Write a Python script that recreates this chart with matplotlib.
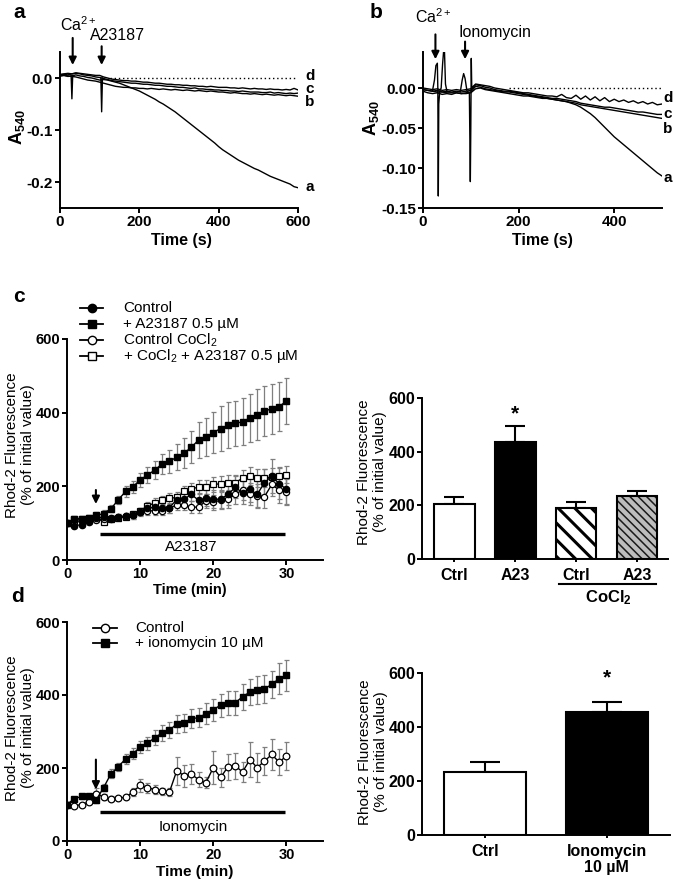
import numpy as np
import matplotlib
matplotlib.use('Agg')
import matplotlib.pyplot as plt

plt.rcParams['font.family'] = ['Liberation Sans', 'DejaVu Sans']
plt.rcParams['mathtext.fontset'] = 'custom'
plt.rcParams['mathtext.rm'] = 'Liberation Sans'
plt.rcParams['mathtext.it'] = 'Liberation Sans:italic'
plt.rcParams['mathtext.bf'] = 'Liberation Sans:bold'
plt.rcParams['hatch.linewidth'] = 1.8

# ---------------- data ----------------
# panel a (A23187), time in s, step 10 s
time_a = np.arange(0, 601, 10)
a_tr_a = [0.004, 0.005, 0.003, 0.004, 0.006, 0.004, 0.003, 0.001, 0.000, -0.002, -0.004,
          -0.003, -0.004, -0.006, -0.008, -0.010, -0.013, -0.016, -0.019, -0.022, -0.025,
          -0.029, -0.033, -0.037, -0.041, -0.046, -0.050, -0.055, -0.060, -0.065, -0.071,
          -0.077, -0.083, -0.089, -0.095, -0.101, -0.107, -0.113, -0.119, -0.125, -0.132,
          -0.138, -0.143, -0.148, -0.153, -0.158, -0.162, -0.166, -0.170, -0.174, -0.177,
          -0.181, -0.185, -0.189, -0.192, -0.195, -0.198, -0.201, -0.204, -0.209, -0.211]
a_tr_b = [0.004, 0.005, 0.004, 0.003, 0.002, 0.000, -0.002, -0.004, -0.005, -0.006, -0.008,
          -0.010, -0.012, -0.014, -0.016, -0.017, -0.018, -0.018, -0.019, -0.019, -0.020,
          -0.020, -0.021, -0.020, -0.021, -0.022, -0.021, -0.022, -0.023, -0.022, -0.023,
          -0.024, -0.023, -0.024, -0.025, -0.024, -0.025, -0.026, -0.025, -0.026, -0.027,
          -0.027, -0.028, -0.029, -0.028, -0.029, -0.030, -0.030, -0.031, -0.030, -0.031,
          -0.032, -0.031, -0.032, -0.033, -0.032, -0.033, -0.034, -0.033, -0.034, -0.035]
a_tr_c = [0.006, 0.007, 0.006, 0.008, 0.009, 0.008, 0.006, 0.005, 0.004, 0.002, 0.001,
          -0.001, -0.003, -0.005, -0.006, -0.007, -0.008, -0.009, -0.010, -0.010, -0.011,
          -0.012, -0.012, -0.013, -0.014, -0.014, -0.015, -0.016, -0.016, -0.017, -0.018,
          -0.018, -0.019, -0.020, -0.019, -0.021, -0.021, -0.022, -0.022, -0.023, -0.023,
          -0.024, -0.024, -0.025, -0.025, -0.026, -0.025, -0.026, -0.027, -0.027, -0.027,
          -0.028, -0.028, -0.027, -0.029, -0.028, -0.029, -0.030, -0.029, -0.030, -0.029]
a_tr_d = [0.007, 0.008, 0.009, 0.008, 0.010, 0.009, 0.008, 0.007, 0.006, 0.005, 0.005,
          0.002, 0.000, -0.002, -0.003, -0.004, -0.005, -0.005, -0.006, -0.006, -0.007,
          -0.008, -0.008, -0.009, -0.010, -0.010, -0.011, -0.012, -0.012, -0.013, -0.013,
          -0.014, -0.014, -0.015, -0.015, -0.016, -0.016, -0.017, -0.016, -0.017, -0.018,
          -0.018, -0.018, -0.019, -0.019, -0.020, -0.019, -0.020, -0.021, -0.020, -0.021,
          -0.021, -0.022, -0.021, -0.022, -0.022, -0.023, -0.022, -0.023, -0.020, -0.023]
a_spike_t = [[28, 30, 32], [103, 105, 107]]
a_spike_v = [[0.005, -0.040, 0.005], [0.000, -0.065, 0.000]]

# panel b (ionomycin), time in s, step 10 s
time_b = np.arange(0, 501, 10)
b_tr_a = [-0.002, -0.003, -0.004, -0.005, -0.005, -0.006, -0.006, -0.006, -0.007, -0.007, -0.006,
          -0.001, 0.000, -0.002, -0.003, -0.004, -0.005, -0.006, -0.007, -0.008, -0.009,
          -0.010, -0.010, -0.011, -0.012, -0.013, -0.013, -0.014, -0.015, -0.016, -0.017,
          -0.019, -0.021, -0.024, -0.028, -0.032, -0.037, -0.043, -0.049, -0.055, -0.061,
          -0.066, -0.071, -0.076, -0.081, -0.086, -0.091, -0.096, -0.101, -0.106, -0.110]
b_tr_b = [-0.004, -0.006, -0.007, -0.006, -0.008, -0.007, -0.008, -0.006, -0.007, -0.006, -0.005,
          0.002, 0.001, -0.001, -0.002, -0.003, -0.004, -0.005, -0.005, -0.006, -0.007,
          -0.008, -0.009, -0.010, -0.011, -0.012, -0.013, -0.014, -0.015, -0.016, -0.017,
          -0.018, -0.019, -0.021, -0.022, -0.023, -0.024, -0.025, -0.026, -0.027, -0.028,
          -0.029, -0.030, -0.031, -0.032, -0.033, -0.034, -0.035, -0.036, -0.037, -0.038]
b_tr_c = [-0.002, -0.003, -0.004, -0.003, -0.005, -0.004, -0.005, -0.004, -0.005, -0.004, -0.003,
          0.004, 0.003, 0.001, 0.000, -0.002, -0.003, -0.004, -0.004, -0.005, -0.006,
          -0.007, -0.008, -0.009, -0.010, -0.011, -0.012, -0.013, -0.013, -0.014, -0.015,
          -0.016, -0.017, -0.019, -0.020, -0.021, -0.022, -0.023, -0.024, -0.024, -0.025,
          -0.026, -0.027, -0.028, -0.029, -0.030, -0.030, -0.031, -0.032, -0.033, -0.033]
b_tr_d = [0.000, -0.001, -0.002, -0.001, -0.003, -0.002, -0.003, -0.002, -0.003, -0.002, -0.001,
          0.005, 0.004, 0.003, 0.002, 0.000, -0.001, -0.002, -0.003, -0.004, -0.005,
          -0.006, -0.006, -0.007, -0.008, -0.009, -0.010, -0.010, -0.011, -0.008, -0.012,
          -0.013, -0.009, -0.014, -0.010, -0.015, -0.011, -0.016, -0.012, -0.017, -0.014,
          -0.017, -0.015, -0.018, -0.016, -0.019, -0.017, -0.020, -0.018, -0.021, -0.020]
b_spike_t = [[20, 24, 27, 30, 31, 32, 33, 35, 38, 41, 43, 45, 47, 50],
             [78, 82, 85, 88, 92, 97, 99, 100, 101, 102, 105]]
b_spike_v = [[-0.003, 0.010, 0.028, 0.031, 0.000, -0.135, -0.020, -0.004, 0.000, 0.030, 0.045, 0.045, 0.005, -0.004],
             [-0.005, 0.010, 0.018, 0.012, -0.004, -0.006, -0.117, -0.050, 0.037, 0.000, 0.002]]

# panel c / d time courses (min)
time_min = np.arange(0, 31)
c_ctrl = [100, 93, 96, 104, 113, 117, 115, 117, 119, 121, 131, 140, 144, 140, 142, 164, 165, 178, 162, 168,
          165, 165, 178, 197, 183, 192, 178, 210, 228, 207, 192]
c_ctrl_err = [4, 6, 6, 6, 7, 7, 8, 8, 9, 10, 10, 12, 12, 13, 14, 15, 16, 18, 20, 22, 24, 26, 28, 30, 32, 34,
              36, 38, 46, 42, 40]
c_a23 = [100, 111, 111, 113, 121, 126, 139, 163, 186, 199, 217, 231, 244, 261, 268, 279, 290, 306, 326, 333,
         346, 357, 366, 371, 375, 386, 395, 405, 410, 416, 432]
c_a23_err = [4, 6, 6, 7, 8, 10, 10, 12, 14, 16, 20, 22, 25, 28, 32, 36, 40, 44, 48, 52, 56, 60, 62, 62, 64, 66,
             68, 68, 68, 66, 62]
c_ctrlco = [100, 104, 107, 108, 108, 112, 112, 117, 119, 121, 130, 133, 134, 133, 140, 150, 150, 143, 144, 160,
            157, 162, 165, 178, 190, 178, 175, 172, 205, 190, 185]
c_ctrlco_err = [4, 5, 5, 6, 6, 7, 7, 8, 8, 9, 10, 11, 12, 12, 13, 14, 15, 16, 17, 18, 20, 22, 24, 26, 28, 30,
                30, 32, 32, 34, 36]
c_coa23 = [100, 112, 112, 114, 116, 103, 110, 114, 118, 124, 132, 147, 155, 162, 167, 170, 186, 193, 198, 198,
           205, 207, 210, 210, 222, 228, 222, 222, 225, 228, 232]
c_coa23_err = [4, 5, 5, 6, 6, 6, 7, 8, 8, 9, 10, 11, 12, 13, 14, 15, 16, 17, 18, 19, 20, 21, 22, 22, 23, 24,
               24, 24, 25, 24, 22]

d_ctrl = [100, 96, 100, 107, 130, 120, 116, 117, 120, 134, 153, 146, 141, 136, 134, 192, 179, 183, 168, 160,
          201, 174, 203, 206, 189, 223, 201, 219, 237, 216, 233]
d_ctrl_err = [3, 4, 4, 5, 15, 8, 6, 5, 5, 12, 18, 14, 12, 10, 10, 38, 30, 28, 20, 15, 45, 25, 35, 35, 28, 48,
              40, 38, 42, 35, 38]
d_iono = [100, 116, 122, 122, 113, 146, 184, 203, 225, 239, 257, 268, 283, 296, 303, 321, 324, 335, 338, 349,
          360, 372, 378, 379, 395, 408, 413, 417, 429, 445, 454]
d_iono_err = [3, 5, 6, 6, 8, 10, 12, 12, 14, 15, 16, 18, 20, 22, 22, 25, 25, 26, 27, 28, 30, 32, 32, 33, 35,
              36, 38, 38, 38, 42, 43]

# bar summaries
c_bar_labels = ['Ctrl', 'A23', 'Ctrl', 'A23']
c_bar_vals = [205, 437, 189, 235]
c_bar_err = [27, 58, 24, 19]
d_bar_labels = ['Ctrl', 'Ionomycin\n10 µM']
d_bar_vals = [235, 454]
d_bar_err = [35, 40]

# ---------------- figure ----------------
W, H = 675, 882
fig = plt.figure(figsize=(W / 100, H / 100), dpi=100)


def add_ax(l, t, r, b):
    return fig.add_axes([l / W, 1 - b / H, (r - l) / W, (b - t) / H])


def style(ax, fs=10):
    for s in ['top', 'right']:
        ax.spines[s].set_visible(False)
    for s in ['left', 'bottom']:
        ax.spines[s].set_linewidth(1.4)
    ax.tick_params(width=1.4, length=3.5, labelsize=fs, pad=1.5, direction='out')
    for lab in ax.get_xticklabels() + ax.get_yticklabels():
        lab.set_fontweight('bold')


arrow_kw = dict(arrowstyle='-|>', color='k', lw=1.5, mutation_scale=11, shrinkA=0, shrinkB=0)

# ---- panel a ----
ax = add_ax(60, 52, 298, 208)
for tr in [a_tr_d, a_tr_c, a_tr_b, a_tr_a]:
    ax.plot(time_a, tr, color='k', lw=1.0)
for st, sv in zip(a_spike_t, a_spike_v):
    ax.plot(st, sv, color='k', lw=1.0)
ax.plot([125, 600], [0, 0], color='k', lw=1.0, ls=(0, (1, 2)))
ax.set_xlim(0, 600)
ax.set_ylim(-0.25, 0.05)
ax.set_xticks([0, 200, 400, 600])
ax.set_yticks([0.0, -0.1, -0.2], labels=['0.0', '-0.1', '-0.2'])
style(ax, 11)
ax.annotate('', xy=(32, 0.025), xytext=(32, 0.077), arrowprops=arrow_kw, annotation_clip=False)
ax.annotate('', xy=(105, 0.025), xytext=(105, 0.061), arrowprops=arrow_kw, annotation_clip=False)
ax.text(45, 0.102, 'Ca$^{2+}$', ha='center', va='center', fontsize=11.5, clip_on=False)
ax.text(146, 0.081, 'A23187', ha='center', va='center', fontsize=11.5, clip_on=False)
for lab, yv in zip(['d', 'c', 'b', 'a'], [0.003, -0.022, -0.047, -0.209]):
    ax.text(618, yv, lab, ha='left', va='center', fontsize=11, fontweight='bold', clip_on=False)

# ---- panel b ----
ax = add_ax(423, 52, 662, 208)
for tr in [b_tr_d, b_tr_c, b_tr_b, b_tr_a]:
    ax.plot(time_b, tr, color='k', lw=1.0)
for st, sv in zip(b_spike_t, b_spike_v):
    ax.plot(st, sv, color='k', lw=1.0)
ax.plot([180, 500], [0, 0], color='k', lw=1.0, ls=(0, (1, 2)))
ax.set_xlim(0, 500)
ax.set_ylim(-0.15, 0.045)
ax.set_xticks([0, 200, 400])
ax.set_yticks([0.0, -0.05, -0.10, -0.15], labels=['0.00', '-0.05', '-0.10', '-0.15'])
style(ax, 11)
ax.annotate('', xy=(26, 0.036), xytext=(26, 0.067), arrowprops=arrow_kw, annotation_clip=False)
ax.annotate('', xy=(88, 0.036), xytext=(88, 0.058), arrowprops=arrow_kw, annotation_clip=False)
ax.text(22, 0.089, 'Ca$^{2+}$', ha='center', va='center', fontsize=11.5, clip_on=False)
ax.text(150, 0.070, 'Ionomycin', ha='center', va='center', fontsize=11.5, clip_on=False)
for lab, yv in zip(['d', 'c', 'b', 'a'], [-0.013, -0.033, -0.051, -0.113]):
    ax.text(503, yv, lab, ha='left', va='center', fontsize=11, fontweight='bold', clip_on=False)

# ---- panel c time course ----
ax = add_ax(67, 339, 323, 560)
eb_kw = dict(fmt='none', ecolor='#7f7f7f', elinewidth=0.9, capsize=1.8, capthick=0.9, zorder=1)
for ys, es in [(c_ctrl, c_ctrl_err), (c_a23, c_a23_err), (c_ctrlco, c_ctrlco_err), (c_coa23, c_coa23_err)]:
    ax.errorbar(time_min, ys, yerr=es, **eb_kw)
ax.plot(time_min, c_coa23, color='k', lw=1.0, marker='s', ms=4.3, mfc='white', mec='k', mew=0.9, zorder=3)
ax.plot(time_min, c_ctrlco, color='k', lw=1.0, marker='o', ms=4.5, mfc='white', mec='k', mew=0.9, zorder=3)
ax.plot(time_min, c_ctrl, color='k', lw=1.0, marker='o', ms=4.5, mfc='k', mec='k', zorder=4)
ax.plot(time_min, c_a23, color='k', lw=1.0, marker='s', ms=4.3, mfc='k', mec='k', zorder=4)
ax.plot([4.5, 29.8], [70, 70], color='k', lw=2.4, solid_capstyle='butt')
ax.text(17, 36, 'A23187', ha='center', va='center', fontsize=11)
ax.annotate('', xy=(3.95, 152), xytext=(3.95, 190), arrowprops=arrow_kw)
ax.set_xlim(0, 35)
ax.set_ylim(0, 600)
ax.set_xticks([0, 10, 20, 30])
ax.set_yticks([0, 200, 400, 600])
style(ax, 10.5)

# ---- panel c bars ----
ax = add_ax(422, 398, 668, 559)
xb = np.arange(len(c_bar_vals))
ax.errorbar(xb, c_bar_vals, yerr=[np.zeros(len(c_bar_err)), c_bar_err], fmt='none', ecolor='k',
            elinewidth=1.5, capsize=7, capthick=1.5, zorder=1)
bw = 0.67
ax.bar(xb[0], c_bar_vals[0], width=bw, color='white', edgecolor='k', lw=1.5, zorder=2)
ax.bar(xb[1], c_bar_vals[1], width=bw, color='black', edgecolor='k', lw=1.5, zorder=2)
plt.rcParams['hatch.linewidth'] = 2.2
ax.bar(xb[2], c_bar_vals[2], width=bw, color='white', edgecolor='k', lw=0, hatch='\\\\', zorder=2)
plt.rcParams['hatch.linewidth'] = 1.1
ax.bar(xb[3], c_bar_vals[3], width=bw, color='#bdbdbd', edgecolor='#1a1a1a', lw=0, hatch='\\\\\\\\', zorder=2)
ax.bar(xb[2:], c_bar_vals[2:], width=bw, fill=False, edgecolor='k', lw=1.5, zorder=3)
ax.text(xb[1], 542, '*', ha='center', va='center', fontsize=15, fontweight='bold')
ax.set_xlim(-0.53, 3.51)
ax.set_ylim(0, 600)
ax.set_yticks([0, 200, 400, 600])
ax.set_xticks(xb, labels=c_bar_labels)
style(ax, 11.5)
ax.tick_params(axis='x', length=2.5, pad=4)

# ---- panel d time course ----
ax = add_ax(67, 622, 323, 841)
ax.errorbar(time_min, d_ctrl, yerr=d_ctrl_err, **eb_kw)
ax.errorbar(time_min, d_iono, yerr=d_iono_err, **eb_kw)
ax.plot(time_min, d_ctrl, color='k', lw=1.0, marker='o', ms=4.8, mfc='white', mec='k', mew=0.9, zorder=3)
ax.plot(time_min, d_iono, color='k', lw=1.0, marker='s', ms=4.3, mfc='k', mec='k', zorder=4)
ax.plot([4.5, 29.8], [80, 80], color='k', lw=2.4, solid_capstyle='butt')
ax.text(17.2, 39, 'Ionomycin', ha='center', va='center', fontsize=11)
ax.annotate('', xy=(3.95, 141), xytext=(3.95, 223), arrowprops=arrow_kw)
ax.set_xlim(0, 35)
ax.set_ylim(0, 600)
ax.set_xticks([0, 10, 20, 30])
ax.set_yticks([0, 200, 400, 600])
style(ax, 10.5)

# ---- panel d bars ----
ax = add_ax(422, 673, 670, 835)
xd = np.arange(len(d_bar_vals))
ax.errorbar(xd, d_bar_vals, yerr=[np.zeros(len(d_bar_err)), d_bar_err], fmt='none', ecolor='k',
            elinewidth=1.5, capsize=11, capthick=1.5, zorder=1)
ax.bar(xd, d_bar_vals, width=0.67, color=['white', 'black'], edgecolor='k', lw=1.5, zorder=2)
ax.text(xd[1], 581, '*', ha='center', va='center', fontsize=15, fontweight='bold')
ax.set_xlim(-0.52, 1.52)
ax.set_ylim(0, 600)
ax.set_yticks([0, 200, 400, 600])
ax.set_xticks(xd, labels=d_bar_labels)
style(ax, 11.5)
ax.tick_params(axis='x', length=2.5, pad=4)
for lab in ax.get_xticklabels():
    lab.set_linespacing(1.05)

# ---- overlay for labels / legends (pixel coordinates) ----
ov = fig.add_axes([0, 0, 1, 1])
ov.set_xlim(0, W)
ov.set_ylim(H, 0)
ov.axis('off')

for lab, (x, y) in zip('abcd', [(19, 13), (376, 12), (19, 296), (18, 596)]):
    ov.text(x, y, lab, ha='center', va='center', fontsize=15, fontweight='bold')

ov.text(17, 127, r'$\mathbf{A_{540}}$', rotation=90, ha='center', va='center', fontsize=13)
ov.text(371, 118, r'$\mathbf{A_{540}}$', rotation=90, ha='center', va='center', fontsize=13)
ov.text(181, 240, 'Time (s)', ha='center', va='center', fontsize=11.5, fontweight='bold')
ov.text(542, 240, 'Time (s)', ha='center', va='center', fontsize=11.5, fontweight='bold')
ov.text(190, 590, 'Time (min)', ha='center', va='center', fontsize=10.5, fontweight='bold')
ov.text(195, 872, 'Time (min)', ha='center', va='center', fontsize=11, fontweight='bold')
ylab = 'Rhod-2 Fluorescence\n(% of initial value)'
for (x, y) in [(20, 445), (372, 472), (20, 728), (373, 752)]:
    ov.text(x, y, ylab, rotation=90, ha='center', va='center', fontsize=11, linespacing=1.15)

# CoCl2 group line
ov.plot([559, 656], [584, 584], color='k', lw=1.5)
ov.text(608, 598, r'$\mathbf{CoCl_2}$', ha='center', va='center', fontsize=12)

# legend c
leg_c = [('o', 'k', 'Control'), ('s', 'k', '+ A23187 0.5 µM'),
         ('o', 'white', 'Control CoCl$_2$'), ('s', 'white', '+ CoCl$_2$ + A23187 0.5 µM')]
for i, (m, fc, txt) in enumerate(leg_c):
    y = 308 + 16 * i
    ov.plot([80, 103], [y, y], color='k', lw=1.3)
    ov.plot([91.5], [y], marker=m, ms=6, mfc=fc, mec='k', mew=1.0, color='k')
    ov.text(123, y, txt, ha='left', va='center', fontsize=11)

# legend d
leg_d = [('o', 'white', 'Control'), ('s', 'k', '+ ionomycin 10 µM')]
for i, (m, fc, txt) in enumerate(leg_d):
    y = 628 + 15 * i
    ov.plot([93, 117], [y, y], color='k', lw=1.3)
    ov.plot([105], [y], marker=m, ms=6, mfc=fc, mec='k', mew=1.0, color='k')
    ov.text(135, y, txt, ha='left', va='center', fontsize=11)

fig.savefig('out.png', dpi=100)
